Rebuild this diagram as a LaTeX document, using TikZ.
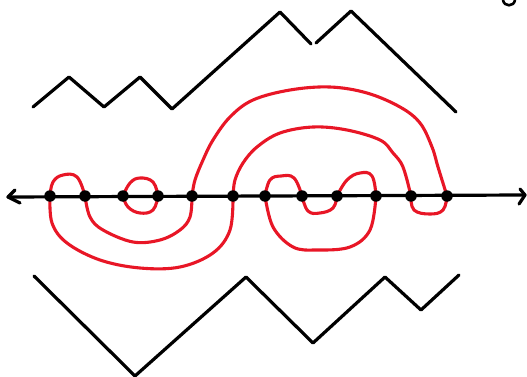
\documentclass[tikz,border=0pt]{standalone}
\definecolor{penred}{RGB}{232,22,38}
\begin{document}
\begin{tikzpicture}[x=1pt,y=-1pt,
  blk/.style={line width=3.2pt,black,line join=round,line cap=round},
  redline/.style={line width=3.1pt,penred,line join=round,line cap=round},
  dot/.style={circle,fill=black,inner sep=0pt,minimum size=11.5pt}]
\useasboundingbox (0,0) rectangle (527,377);
% axis
\coordinate (L) at (8,197);
\coordinate (R) at (525,195);
\draw[blk] (L) -- (R);
\draw[blk] (15,190) -- (L) -- (20,203);
\draw[blk] (520,189) -- (R) -- (519,204);
% points
\foreach \i/\x in {1/50,2/85,3/123,4/158,5/192,6/233,7/265,8/302,9/337,10/376,11/411,12/447}
  \coordinate (d\i) at (\x,196);
% red curves: upper
\draw[redline] plot[smooth,tension=0.7] coordinates {(d1) (53,182) (63,175) (77,177) (d2)};
\draw[redline] plot[smooth,tension=0.7] coordinates {(d3) (130,183) (140,178) (153,182) (d4)};
\draw[redline] plot[smooth,tension=0.7] coordinates {(d7) (270,180) (281,176) (294,178) (d8)};
\draw[redline] plot[smooth,tension=0.7] coordinates {(d9) (347,180) (360,173) (372,176) (d10)};
\draw[redline] plot[smooth,tension=0.6] coordinates {(d5) (195,180) (203,160) (213,140) (230,117) (253,100) (290,90) (330,87) (367,93) (400,107) (420,123) (432,147) (438,167) (d12)};
\draw[redline] plot[smooth,tension=0.6] coordinates {(d6) (235,180) (243,163) (257,147) (280,133) (313,127) (347,130) (380,140) (393,153) (403,167) (d11)};
% red curves: lower
\draw[redline] plot[smooth,tension=0.6] coordinates {(d2) (90,217) (103,230) (133,242) (160,240) (180,230) (190,217) (d5)};
\draw[redline] plot[smooth,tension=0.6] coordinates {(d1) (52,223) (67,243) (100,260) (140,268) (180,267) (213,253) (230,230) (d6)};
\draw[redline] plot[smooth,tension=0.7] coordinates {(d3) (128,207) (140,213) (153,210) (d4)};
\draw[redline] plot[smooth,tension=0.6] coordinates {(d7) (273,227) (293,247) (317,250) (350,247) (370,230) (d10)};
\draw[redline] plot[smooth,tension=0.7] coordinates {(d8) (308,211) (320,213) (333,208) (d9)};
\draw[redline] plot[smooth,tension=0.7] coordinates {(d11) (414,210) (430,214) (443,210) (d12)};
% dots
\foreach \i in {1,...,12} \node[dot] (n\i) at (d\i) {};
% mountains
\draw[blk] (33,107) -- (69,77) -- (104,107) -- (140,77) -- (172,109) -- (280,12) -- (311,44);
\draw[blk] (316,43) -- (351,11) -- (456,112);
\draw[blk] (34,276) -- (135,376) -- (246,277) -- (313,343) -- (385,277) -- (421,310) -- (459,275);
% scribble top right
\draw[line width=2.6pt,black,line cap=round] (503,0) .. controls (504,7) and (514,7) .. (515,0);
\end{tikzpicture}
\end{document}
